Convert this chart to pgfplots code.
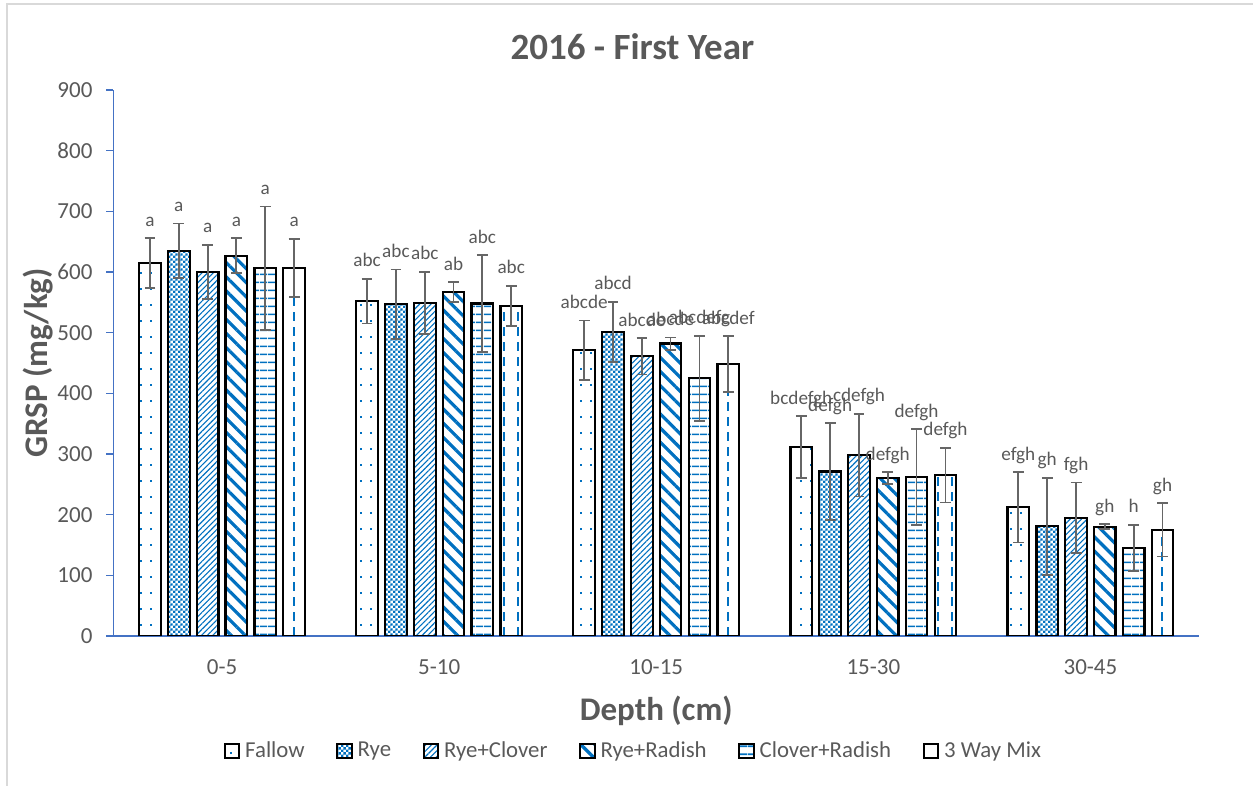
\documentclass[border=0pt]{standalone}
\usepackage{fontspec}
\setmainfont{Carlito}
\usepackage{pgfplots}
\pgfplotsset{compat=1.18}
\usepackage{pgfplotstable}
\usetikzlibrary{patterns,patterns.meta}

\definecolor{pblue}{HTML}{0070C0}
\definecolor{axblue}{HTML}{4472C4}
\definecolor{txt}{HTML}{595959}
\definecolor{errg}{HTML}{666666}
\definecolor{framegray}{HTML}{D9D9D9}

\pgfdeclarepatternformonly{sdots}{\pgfqpoint{0pt}{0pt}}{\pgfqpoint{5pt}{8pt}}{\pgfqpoint{5pt}{8pt}}{%
  \pgfpathrectangle{\pgfqpoint{0pt}{0pt}}{\pgfqpoint{1pt}{1pt}}\pgfusepath{fill}}
\pgfdeclarepatternformonly{checker}{\pgfqpoint{0pt}{0pt}}{\pgfqpoint{2.4pt}{2.4pt}}{\pgfqpoint{2.4pt}{2.4pt}}{%
  \pgfpathrectangle{\pgfqpoint{0pt}{0pt}}{\pgfqpoint{1.2pt}{1.2pt}}%
  \pgfpathrectangle{\pgfqpoint{1.2pt}{1.2pt}}{\pgfqpoint{1.2pt}{1.2pt}}\pgfusepath{fill}}
\pgfdeclarepatternformonly{vdash}{\pgfqpoint{-1pt}{0pt}}{\pgfqpoint{7pt}{7.5pt}}{\pgfqpoint{7pt}{7.5pt}}{%
  \pgfsetlinewidth{1pt}\pgfpathmoveto{\pgfqpoint{0pt}{0pt}}\pgfpathlineto{\pgfqpoint{0pt}{4.5pt}}\pgfusepath{stroke}}

\pgfplotstableread{
x y e lab
-0.332 615 41 a
0.668 552 37 abc
1.668 471 49 abcde
2.668 311 51 bcdefgh
3.668 212 58 efgh
}\fallow
\pgfplotstableread{
x y e lab
-0.199 635 45 a
0.801 547 57 abc
1.801 501 50 abcd
2.801 271 80 defgh
3.801 181 80 gh
}\rye
\pgfplotstableread{
x y e lab
-0.066 600 45 a
0.934 549 51 abc
1.934 461 30 abcde
2.934 298 68 cdefgh
3.934 195 58 fgh
}\ryeclover
\pgfplotstableread{
x y e lab
0.066 627 29 a
1.066 567 16 ab
2.066 482 10 abcde
3.066 260 10 defgh
4.066 180 4 gh
}\ryeradish
\pgfplotstableread{
x y e lab
0.199 606 102 a
1.199 548 80 abc
2.199 425 70 abcdefg
3.199 262 79 defgh
4.199 145 38 h
}\cloverradish
\pgfplotstableread{
x y e lab
0.332 607 48 a
1.332 544 33 abc
2.332 448 46 abcdef
3.332 265 45 defgh
4.332 175 44 gh
}\threeway

\pgfplotsset{
  mybar/.style={ybar, bar width=10.8pt, bar shift=0pt, draw=black, line width=1.1pt,
    pattern color=pblue,
    legend image code/.code={\draw[##1, line width=0.9pt] (0pt,-3.6pt) rectangle (7.2pt,3.6pt);},
    error bars/y dir=both, error bars/y explicit,
    error bars/error bar style={errg, line width=0.9pt},
    error bars/error mark options={rotate=90, mark size=2.7pt, errg, line width=0.9pt}},
  mylab/.style={draw=none, forget plot, nodes near coords, point meta=explicit symbolic,
    nodes near coords style={anchor=base, yshift=6pt, inner sep=0pt,
      font=\fontsize{9.6}{11}\selectfont, text=txt}},
}

\begin{document}
\begin{tikzpicture}
\useasboundingbox (0,0) rectangle (626.5pt,393pt);
\draw[framegray, line width=1pt] (3.5pt,0) -- (3.5pt,391pt) -- (626.5pt,391pt);
\begin{axis}[
  at={(56.75pt,75pt)}, anchor=south west,
  scale only axis, width=542.75pt, height=273pt,
  xmin=-0.5, xmax=4.5, ymin=0, ymax=900,
  xtick={0,1,2,3,4}, xticklabels={0-5,5-10,10-15,15-30,30-45},
  ytick={0,100,...,900},
  axis x line*=bottom, axis y line*=left,
  axis line style={axblue, line width=0.75pt},
  x tick style={draw=none}, y tick style={axblue, line width=0.75pt},
  tick align=outside, major tick length=3.5pt,
  ticklabel style={font=\fontsize{11.5}{13}\selectfont, text=txt},
  xticklabel style={anchor=center, yshift=-12pt},
  yticklabel style={xshift=-3.5pt},
  /pgf/number format/assume math mode=true,
  title={2016 - First Year},
  title style={font=\bfseries\fontsize{18.5}{20}\selectfont, text=txt, at={(0.478,1.0568)}, anchor=center},
  xlabel={Depth (cm)}, ylabel={GRSP (mg/kg)},
  label style={font=\bfseries\fontsize{16.5}{18}\selectfont, text=txt},
  xlabel style={at={(0.5,-0.1374)}, anchor=center},
  ylabel style={at={(-0.0696,0.5)}, anchor=center},
  legend style={at={(0.4804,-0.2106)}, anchor=center, draw=none, fill=none,
    legend columns=-1, font=\fontsize{11.4}{13}\selectfont, text=txt,
    nodes={inner xsep=2.5pt},
    /tikz/every even column/.append style={column sep=13.4pt}},
  legend cell align=left,
]
\addplot[mybar, pattern=sdots] table[x=x, y=y, y error=e] {\fallow};
\addlegendentry{Fallow}
\addplot[mybar, pattern=checker] table[x=x, y=y, y error=e] {\rye};
\addlegendentry{Rye}
\addplot[mybar, pattern={Lines[angle=45, distance=2pt, line width=0.55pt]}] table[x=x, y=y, y error=e] {\ryeclover};
\addlegendentry{Rye+Clover}
\addplot[mybar, pattern={Lines[angle=-45, distance=5pt, line width=1.6pt]}] table[x=x, y=y, y error=e] {\ryeradish};
\addlegendentry{Rye+Radish}
\addplot[mybar, pattern={Lines[angle=0, distance=4pt, line width=0.9pt]}] table[x=x, y=y, y error=e] {\cloverradish};
\addlegendentry{Clover+Radish}
\addplot[mybar, pattern=vdash] table[x=x, y=y, y error=e] {\threeway};
\addlegendentry{3 Way Mix}

\addplot[mylab] table[x=x, y expr=\thisrow{y}+\thisrow{e}, meta=lab] {\fallow};
\addplot[mylab] table[x=x, y expr=\thisrow{y}+\thisrow{e}, meta=lab] {\rye};
\addplot[mylab] table[x=x, y expr=\thisrow{y}+\thisrow{e}, meta=lab] {\ryeclover};
\addplot[mylab] table[x=x, y expr=\thisrow{y}+\thisrow{e}, meta=lab] {\ryeradish};
\addplot[mylab] table[x=x, y expr=\thisrow{y}+\thisrow{e}, meta=lab] {\cloverradish};
\addplot[mylab] table[x=x, y expr=\thisrow{y}+\thisrow{e}, meta=lab] {\threeway};
\end{axis}
\end{tikzpicture}
\end{document}
